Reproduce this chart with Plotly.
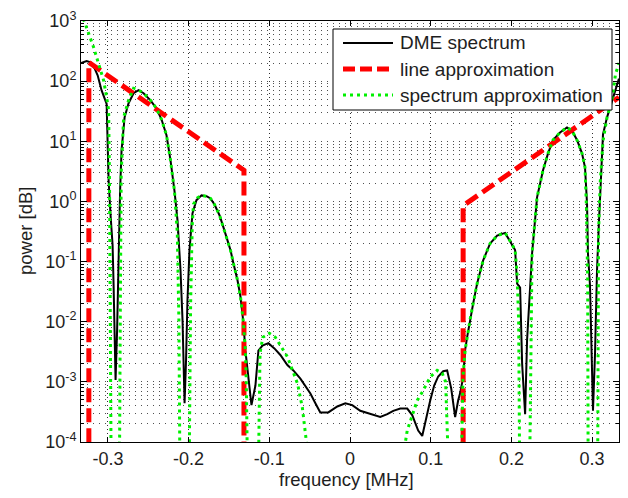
import plotly.graph_objects as go

# ---- DME spectrum (measured) ----
freq_dme = [
    -0.3333, -0.3264, -0.3214, -0.3165, -0.3127, -0.3078, -0.3016, -0.2991, -0.2967, -0.2942,
    -0.2930, -0.2917, -0.2905, -0.2886, -0.2868, -0.2849, -0.2831, -0.2818, -0.2793, -0.2744,
    -0.2682, -0.2620, -0.2558, -0.2472, -0.2397, -0.2335, -0.2274, -0.2224, -0.2175, -0.2137,
    -0.2100, -0.2075, -0.2063, -0.2050, -0.2032, -0.2014, -0.1989, -0.1952, -0.1903, -0.1840,
    -0.1778, -0.1729, -0.1679, -0.1617, -0.1568, -0.1518, -0.1481, -0.1444, -0.1394, -0.1357,
    -0.1320, -0.1296, -0.1259, -0.1221, -0.1172, -0.1135, -0.1085, -0.1011, -0.0937, -0.0863,
    -0.0776, -0.0702, -0.0615, -0.0553, -0.0491, -0.0429, -0.0368, -0.0269, -0.0157, -0.0058,
    0.0028, 0.0127, 0.0251, 0.0375, 0.0462, 0.0536, 0.0623, 0.0709, 0.0771, 0.0845,
    0.0895, 0.0944, 0.0994, 0.1043, 0.1093, 0.1155, 0.1204, 0.1254, 0.1278, 0.1303,
    0.1340, 0.1365, 0.1402, 0.1427, 0.1451, 0.1489, 0.1526, 0.1575, 0.1650, 0.1736,
    0.1823, 0.1922, 0.1984, 0.2046, 0.2071, 0.2108, 0.2133, 0.2170, 0.2194, 0.2219,
    0.2256, 0.2318, 0.2392, 0.2454, 0.2516, 0.2603, 0.2689, 0.2751, 0.2813, 0.2875,
    0.2912, 0.2937, 0.2949, 0.2974, 0.2999, 0.3011, 0.3036, 0.3061, 0.3086, 0.3110,
    0.3135, 0.3185, 0.3247, 0.3333,
]
power_dme = [
    200, 215, 205, 163, 125, 70, 42, 2.2, 0.59, 0.19,
    0.044, 7.2e-3, 1.07e-3, 7.2e-3, 0.155, 1.5, 7, 11.7, 25, 43,
    63, 71, 63, 48, 35, 23, 12.6, 4.8, 1.5, 0.48,
    0.07, 0.0104, 2.2e-3, 4.4e-4, 2.2e-3, 0.023, 0.155, 0.63, 1.05, 1.26,
    1.22, 1.12, 0.89, 0.59, 0.37, 0.23, 0.155, 0.093, 0.049, 0.026,
    9.4e-3, 3.3e-3, 1.28e-3, 4.1e-4, 8.7e-4, 3.3e-3, 4.0e-3, 4.4e-3, 3.6e-3, 2.8e-3,
    1.9e-3, 1.55e-3, 1.13e-3, 8.7e-4, 6.4e-4, 4.4e-4, 3.1e-4, 3.1e-4, 3.9e-4, 4.4e-4,
    4.1e-4, 3.3e-4, 2.9e-4, 2.6e-4, 2.9e-4, 3.3e-4, 3.6e-4, 3.6e-4, 2.8e-4, 1.55e-4,
    1.26e-4, 2.5e-4, 4.9e-4, 8.7e-4, 1.23e-3, 1.5e-3, 1.55e-3, 7.8e-4, 4.1e-4, 2.6e-4,
    4.9e-4, 6.5e-4, 1.2e-3, 3.4e-3, 5.5e-3, 0.011, 0.02, 0.043, 0.105, 0.2,
    0.27, 0.30, 0.22, 0.155, 0.043, 0.037, 2.0e-3, 2.9e-4, 4.9e-3, 0.023,
    0.135, 1.17, 3.3, 6.3, 10.5, 14, 17, 15, 10.5, 6.3,
    3.7, 0.93, 0.135, 0.04, 7.2e-4, 3.3e-4, 2.9e-3, 0.072, 0.49, 3.0,
    13, 25, 45, 110,
]

# ---- piecewise line approximation (two skirts) ----
freq_line = [-0.3236, -0.3236, -0.1314, -0.1314, None, 0.1402, 0.1402, 0.3333]
power_line = [1e-5, 205, 3.3, 1e-5, None, 1e-5, 0.85, 54]

# ---- model spectrum approximation ----
freq_approx = [
    -0.3333, -0.3264, -0.3227, -0.3177, -0.3140, -0.3103, -0.3053, -0.3016, -0.2991, -0.2980,
    -0.2970, -0.2962, -0.2905, -0.2855, -0.2845, -0.2835, -0.2805, -0.2744, -0.2682, -0.2620,
    -0.2558, -0.2472, -0.2397, -0.2335, -0.2274, -0.2224, -0.2175, -0.2140, -0.2120, -0.2110,
    -0.2050, -0.1990, -0.1975, -0.1955, -0.1940, -0.1890, -0.1840, -0.1778, -0.1729, -0.1679,
    -0.1617, -0.1568, -0.1518, -0.1481, -0.1444, -0.1394, -0.1357, -0.1320, -0.1296, -0.1285,
    -0.1275, -0.1200, -0.1130, -0.1115, -0.1080, -0.1000, -0.0925, -0.0860, -0.0775, -0.0650,
    -0.0590, -0.0540, -0.0490, -0.0440, 0.0100, 0.0630, 0.0660, 0.0687, 0.0709, 0.0833,
    0.0907, 0.0994, 0.1080, 0.1142, 0.1185, 0.1210, 0.1300, 0.1385, 0.1400, 0.1427,
    0.1451, 0.1489, 0.1526, 0.1575, 0.1650, 0.1736, 0.1823, 0.1922, 0.1984, 0.2046,
    0.2071, 0.2090, 0.2100, 0.2170, 0.2230, 0.2245, 0.2256, 0.2318, 0.2392, 0.2454,
    0.2516, 0.2603, 0.2689, 0.2751, 0.2813, 0.2875, 0.2912, 0.2930, 0.2945, 0.2950,
    0.3010, 0.3070, 0.3080, 0.3100, 0.3135, 0.3185, 0.3247, 0.3290, 0.3333,
]
power_approx = [
    1400, 790, 580, 365, 250, 170, 103, 54, 33, 2,
    0.01, 1e-4, 1e-6, 1e-4, 0.03, 3, 25, 48, 76, 71,
    63, 48, 35, 23, 12.6, 4.8, 1.5, 0.3, 0.01, 1e-4,
    1e-6, 1e-4, 0.02, 0.4, 0.9, 1.15, 1.26, 1.22, 1.12, 0.89,
    0.59, 0.37, 0.23, 0.155, 0.093, 0.049, 0.026, 9.4e-3, 3.3e-3, 1e-3,
    1e-4, 1e-6, 1e-4, 3e-3, 5.5e-3, 6.4e-3, 5.5e-3, 4e-3, 2.6e-3, 9.3e-4,
    3.7e-4, 1e-4, 1e-6, 1e-5, 5e-5, 1e-5, 1e-6, 1e-4, 1.55e-4, 4.9e-4,
    7.2e-4, 1.2e-3, 1.55e-3, 1.4e-3, 1e-3, 1e-4, 1e-6, 1e-4, 1.2e-3, 3.4e-3,
    5.5e-3, 0.011, 0.02, 0.043, 0.105, 0.2, 0.27, 0.30, 0.22, 0.155,
    0.06, 0.01, 1e-4, 1e-6, 1e-4, 0.03, 0.135, 1.17, 3.3, 6.3,
    10.5, 14, 17, 15, 10.5, 6.3, 3.7, 0.8, 0.05, 1e-4,
    1e-6, 1e-4, 0.3, 2, 10, 25, 50, 130, 200,
]

# ---- axes ----
x_tick_vals = [-0.3, -0.2, -0.1, 0.0, 0.1, 0.2, 0.3]
x_tick_text = ["-0.3", "-0.2", "-0.1", "0", "0.1", "0.2", "0.3"]
y_exponents = [-4, -3, -2, -1, 0, 1, 2, 3]
y_tick_vals = [10.0 ** e for e in y_exponents]
y_tick_text = ["10<sup>%d</sup>" % e for e in y_exponents]
y_minor_vals = [k * 10.0 ** e for e in y_exponents[:-1] for k in range(2, 10)]

legend_labels = ["DME spectrum", "line approximation", "spectrum approximation"]

TEXT = "#1e1e1e"
FONT = "Liberation Sans, Arial, sans-serif"
GRID = "#505050"

# plot-area pixel frame (used for the hand-drawn legend box and titles)
W, H = 628, 498
PL, PR, PT, PB = 81, 619, 21, 442


def px_x(px):
    return (px - PL) / (PR - PL)


def px_y(py):
    return (PB - py) / (PB - PT)


GREEN_LINE = dict(color="#00f000", width=3, dash="3px,4px")
RED_LINE = dict(color="#ff0000", width=5, dash="14px,6px")

fig = go.Figure()
fig.add_trace(go.Scatter(x=freq_dme, y=power_dme, mode="lines", name=legend_labels[0],
                         line=dict(color="black", width=2), showlegend=False))
fig.add_trace(go.Scatter(x=freq_line, y=power_line, mode="lines", name=legend_labels[1],
                         line=RED_LINE, connectgaps=False, showlegend=False))
fig.add_trace(go.Scatter(x=freq_approx, y=power_approx, mode="lines", name=legend_labels[2],
                         line=GREEN_LINE, showlegend=False))

# legend box
shapes = [dict(type="rect", xref="paper", yref="paper", layer="above",
               x0=px_x(333), x1=px_x(612), y0=px_y(110), y1=px_y(29),
               fillcolor="white", line=dict(color="black", width=1))]
row_y = [43, 69, 95]
row_styles = [dict(color="black", width=2),
              dict(color="#ff0000", width=5, dash="12px,5px"),
              GREEN_LINE]
annotations = []
for label, yy, sty in zip(legend_labels, row_y, row_styles):
    shapes.append(dict(type="line", xref="paper", yref="paper", layer="above",
                       x0=px_x(343), x1=px_x(393), y0=px_y(yy), y1=px_y(yy), line=sty))
    annotations.append(dict(text=label, xref="paper", yref="paper", x=px_x(398), y=px_y(yy),
                            xanchor="left", yanchor="middle", showarrow=False,
                            font=dict(family=FONT, size=19, color=TEXT)))

# axis titles
annotations.append(dict(text="frequency [MHz]", xref="paper", yref="paper",
                        x=px_x(346), y=px_y(479), xanchor="center", yanchor="middle",
                        showarrow=False, font=dict(family=FONT, size=18.5, color=TEXT)))
annotations.append(dict(text="power [dB]", xref="paper", yref="paper",
                        x=px_x(25), y=px_y(231), xanchor="center", yanchor="middle",
                        textangle=-90, showarrow=False,
                        font=dict(family=FONT, size=18.5, color=TEXT)))

fig.update_layout(
    width=W, height=H,
    margin=dict(l=PL, r=W - PR, t=PT, b=H - PB),
    paper_bgcolor="white", plot_bgcolor="white",
    font=dict(family=FONT, size=18, color=TEXT),
    shapes=shapes, annotations=annotations,
    xaxis=dict(range=[-1 / 3, 1 / 3], tickmode="array", tickvals=x_tick_vals, ticktext=x_tick_text,
               ticks="inside", ticklen=5, tickcolor="black", showline=True, linecolor="black",
               linewidth=1, mirror="ticks", zeroline=False, showgrid=True, gridcolor="#303030",
               gridwidth=1, griddash="1px,3px", tickfont=dict(size=18, color=TEXT)),
    yaxis=dict(type="log", range=[-4, 3], tickmode="array", tickvals=y_tick_vals,
               ticktext=y_tick_text, ticks="inside", ticklen=6, tickcolor="black",
               showline=True, linecolor="black", linewidth=1, mirror="ticks", zeroline=False,
               showgrid=True, gridcolor=GRID, gridwidth=1, griddash="1px,5px",
               tickfont=dict(size=18, color=TEXT),
               minor=dict(tickmode="array", tickvals=y_minor_vals, ticks="inside", ticklen=3,
                          tickcolor="black", showgrid=True, gridcolor=GRID, gridwidth=1,
                          griddash="1px,5px")),
)

fig.write_html("out.html")
